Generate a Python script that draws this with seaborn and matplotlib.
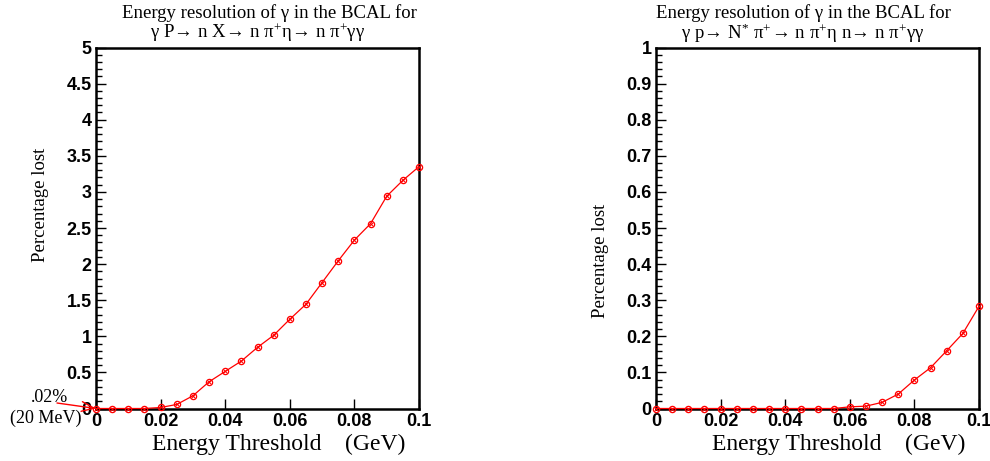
import pandas as pd
import seaborn as sns
import matplotlib.pyplot as plt
from matplotlib.ticker import MultipleLocator

# Energy thresholds (GeV)
threshold = [0.000, 0.005, 0.010, 0.015, 0.020, 0.025, 0.030, 0.035, 0.040, 0.045, 0.050,
             0.055, 0.060, 0.065, 0.070, 0.075, 0.080, 0.085, 0.090, 0.095, 0.100]

# Percentage lost, left: gamma P -> n X -> n pi+ eta -> n pi+ gamma gamma
lost_nx = [0.0, 0.0, 0.0, 0.0, 0.014, 0.056, 0.176, 0.37, 0.514, 0.657, 0.847,
           1.014, 1.236, 1.444, 1.745, 2.046, 2.333, 2.56, 2.94, 3.16, 3.35]

# Percentage lost, right: gamma p -> N* pi+ -> n pi+ eta -> n pi+ gamma gamma
lost_nstar = [0.0, 0.0, 0.0, 0.0, 0.0, 0.0, 0.0, 0.0, 0.0, 0.0, 0.0,
              0.0, 0.0046, 0.0065, 0.017, 0.040, 0.079, 0.113, 0.160, 0.208, 0.283]

ARR = r'$\!\rightarrow\!$'
title_line1 = 'Energy resolution of γ in the BCAL for'
title_nx = 'γ P' + ARR + ' n X' + ARR + ' n π$^{+}$η' + ARR + ' n π$^{+}$γγ'
title_nstar = 'γ p' + ARR + ' N$^{*}$ π$^{+}$' + ARR + ' n π$^{+}$η n' + ARR + ' n π$^{+}$γγ'

sns.set_style('ticks')
plt.rcParams['font.family'] = ['Liberation Sans', 'DejaVu Sans']
plt.rcParams['mathtext.fontset'] = 'stix'
plt.rcParams['mathtext.default'] = 'regular'
for key in ['text.color', 'axes.labelcolor', 'xtick.color', 'ytick.color']:
    plt.rcParams[key] = 'black'

SERIF = ['Liberation Serif', 'DejaVu Serif']
RED = '#ff0000'

fig = plt.figure(figsize=(9.9, 4.61), dpi=100)
W, H = 990, 461


def make_axes(x0, x1, y0=408.5, y1=47.5):
    return fig.add_axes([x0 / W, 1 - y0 / H, (x1 - x0) / W, (y0 - y1) / H])


def draw_panel(ax, values, ymax, ymajor, yminor, tline1, tline2, t1x, t2x, ylab_y):
    df = pd.DataFrame({'thr': threshold, 'lost': values})
    sns.lineplot(data=df, x='thr', y='lost', ax=ax, color=RED, linewidth=0.9,
                 marker='o', markersize=4.5, markerfacecolor='none',
                 markeredgecolor=RED, markeredgewidth=0.9, clip_on=False, zorder=5)
    ax.plot(df['thr'], df['lost'], linestyle='none', marker='x', markersize=2.8,
            color=RED, markeredgewidth=0.7, clip_on=False, zorder=5)

    ax.set_xlim(0, 0.1)
    ax.set_ylim(0, ymax)
    ax.xaxis.set_major_locator(MultipleLocator(0.02))
    ax.yaxis.set_major_locator(MultipleLocator(ymajor))
    ax.yaxis.set_minor_locator(MultipleLocator(yminor))
    ax.xaxis.set_major_formatter(plt.FuncFormatter(lambda v, p: ('%g' % round(v, 4))))
    ax.yaxis.set_major_formatter(plt.FuncFormatter(lambda v, p: ('%g' % round(v, 4))))

    ax.tick_params(axis='both', which='both', direction='in', width=1.0)
    ax.tick_params(axis='both', which='major', length=7, labelsize=13, pad=3)
    ax.tick_params(axis='y', which='minor', length=4)
    ax.tick_params(axis='x', which='minor', bottom=False)
    for lab in ax.get_xticklabels() + ax.get_yticklabels():
        lab.set_fontweight('bold')
    for sp in ax.spines.values():
        sp.set_visible(True)
        sp.set_linewidth(1.8)
        sp.set_color('black')

    ax.set_xlabel('Energy Threshold    (GeV)', family=SERIF, fontsize=17)
    ax.xaxis.label.set_ha('right')
    ax.xaxis.set_label_coords(0.957, -0.10)
    ax.xaxis.label.set_va('center')

    ax.set_ylabel('Percentage lost', family=SERIF, fontsize=13.5)
    ax.yaxis.set_label_coords(-0.172, ylab_y)
    ax.yaxis.label.set_va('center')

    ax.text(t1x, 1.096, tline1, transform=ax.transAxes, ha='center', va='center',
            family=SERIF, fontsize=13.5)
    ax.text(t2x, 1.04, tline2, transform=ax.transAxes, ha='center', va='center',
            family=SERIF, fontsize=13.5)


ax1 = make_axes(96, 419)
draw_panel(ax1, lost_nx, 5, 0.5, 0.1, title_line1, title_nx,
           (269 - 96) / 323, (258 - 96) / 323, (408.5 - 205) / 361)

ax2 = make_axes(656, 979)
draw_panel(ax2, lost_nstar, 1, 0.1, 0.02, title_line1, title_nstar,
           (803 - 656) / 323, (803 - 656) / 323, (408.5 - 261) / 361)

# annotation for the 20 MeV threshold on the left panel
ax1.annotate('', xy=(0, 0), xycoords='data', xytext=(57, H - 403),
             textcoords='figure pixels',
             arrowprops=dict(arrowstyle='->,head_length=0.9,head_width=0.35',
                             color=RED, lw=1.0, shrinkA=0, shrinkB=0),
             annotation_clip=False)
fig.text(50 / W, 1 - 397 / H, '.02%', family=SERIF, fontsize=13,
         ha='center', va='center')
fig.text(46 / W, 1 - 418 / H, '(20 MeV)', family=SERIF, fontsize=13,
         ha='center', va='center')

fig.savefig('out.png', dpi=100)
